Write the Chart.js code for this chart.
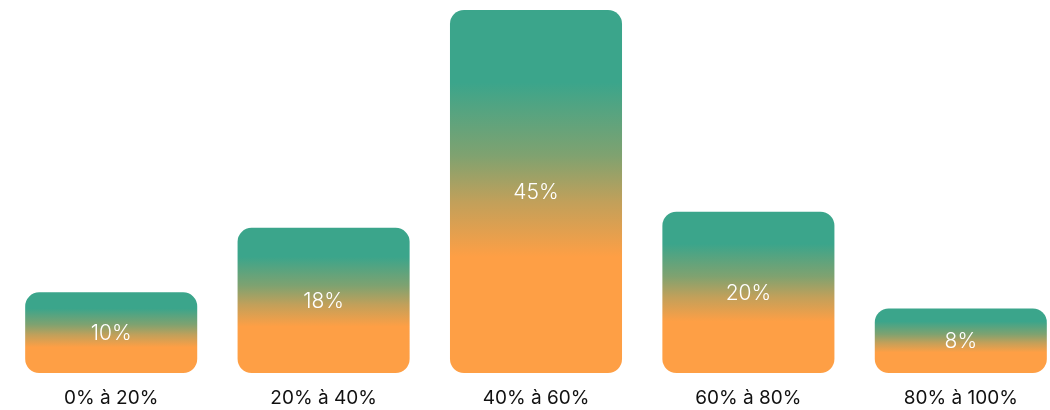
<!DOCTYPE html>
<html lang="fr">
<head>
<meta charset="utf-8">
<script src="https://cdn.jsdelivr.net/npm/chart.js@4/dist/chart.umd.min.js"></script>
<style>
  html, body { margin: 0; padding: 0; background: #fff; overflow: hidden; }
  .wrap { position: relative; width: 1071px; height: 410px; }
</style>
</head>
<body>
<div class="wrap"><canvas id="graficaTranches"></canvas></div>
<script>
// --- DONNÉES ---
const tranches = ['0% à 20%', '20% à 40%', '40% à 60%', '60% à 80%', '80% à 100%'];
const parts = [10, 18, 45, 20, 8];

const TEAL = '#3ba58b';
const ORANGE = '#fe9f45';

// dégradé propre à chaque barre (sarcelle en haut, orange en bas)
function degrade(ctx) {
    const chart = ctx.chart;
    if (!chart.chartArea || ctx.raw == null) return ORANGE;
    const y = chart.scales.y;
    const haut = y.getPixelForValue(ctx.raw);
    const bas = y.getPixelForValue(0);
    const g = chart.ctx.createLinearGradient(0, haut, 0, bas);
    g.addColorStop(0, TEAL);
    g.addColorStop(0.2, TEAL);
    g.addColorStop(0.4, '#7fa270');
    g.addColorStop(0.53, '#c2a05a');
    g.addColorStop(0.68, ORANGE);
    g.addColorStop(1, ORANGE);
    return g;
}

// étiquettes blanches au centre des barres
const etiquettes = {
    id: 'etiquettes',
    afterDatasetsDraw(chart) {
        const c = chart.ctx;
        const meta = chart.getDatasetMeta(0);
        c.save();
        c.fillStyle = '#ffffff';
        c.font = '300 21px Inter, "Noto Sans", sans-serif';
        c.textAlign = 'center';
        c.textBaseline = 'middle';
        meta.data.forEach((bar, i) => {
            const mid = (bar.y + bar.base) / 2;
            c.fillText(parts[i] + '%', bar.x, mid + 1);
        });
        c.restore();
    }
};

const ctxT = document.getElementById('graficaTranches').getContext('2d');
new Chart(ctxT, {
    type: 'bar',
    data: {
        labels: tranches,
        datasets: [{
            data: parts,
            backgroundColor: degrade,
            borderRadius: 14,
            borderSkipped: false,
            barPercentage: 0.81,
            categoryPercentage: 1
        }]
    },
    options: {
        responsive: true,
        maintainAspectRatio: false,
        animation: false,
        layout: { padding: { left: 5, right: 4, top: 10, bottom: 0 } },
        plugins: { legend: { display: false }, tooltip: { enabled: false } },
        scales: {
            x: {
                grid: { display: false, drawTicks: false },
                border: { display: false },
                afterFit(axis) { axis.height = 37; },
                ticks: {
                    color: '#111111',
                    padding: 14,
                    maxRotation: 0,
                    font: { family: 'Inter, "Noto Sans", sans-serif', size: 19 }
                }
            },
            y: { display: false, min: 0, max: 45 }
        }
    },
    plugins: [etiquettes]
});
</script>
</body>
</html>
